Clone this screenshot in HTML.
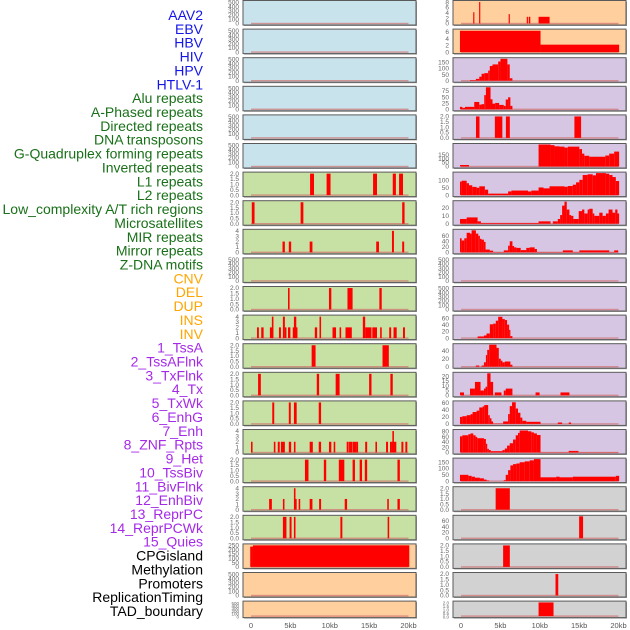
<!DOCTYPE html>
<html><head><meta charset="utf-8"><style>
html,body{margin:0;padding:0;background:#fff;}
svg{display:block;font-family:"Liberation Sans",sans-serif;}
</style></head><body>
<svg id="chart" width="630" height="630" viewBox="0 0 630 630" xmlns="http://www.w3.org/2000/svg"></svg>
<script>
const rowLabels=["AAV2","EBV","HBV","HIV","HPV","HTLV-1","Alu repeats","A-Phased repeats","Directed repeats","DNA transposons","G-Quadruplex forming repeats","Inverted repeats","L1 repeats","L2 repeats","Low_complexity A/T rich regions","Microsatellites","MIR repeats","Mirror repeats","Z-DNA motifs","CNV","DEL","DUP","INS","INV","1_TssA","2_TssAFlnk","3_TxFlnk","4_Tx","5_TxWk","6_EnhG","7_Enh","8_ZNF_Rpts","9_Het","10_TssBiv","11_BivFlnk","12_EnhBiv","13_ReprPC","14_ReprPCWk","15_Quies","CPGisland","Methylation","Promoters","ReplicationTiming","TAD_boundary"];
const labelGroups=["v","v","v","v","v","v","r","r","r","r","r","r","r","r","r","r","r","r","r","s","s","s","s","s","c","c","c","c","c","c","c","c","c","c","c","c","c","c","c","o","o","o","o","o"];
const xTickKb=[0,5,10,15,20];
const xTickLabels=["0","5kb","10kb","15kb","20kb"];
// left column: background group, y-axis kind, segments [startKb,endKb,value]
const leftBg=["b","b","b","b","b","b","g","g","g","g","g","g","g","g","g","g","g","g","g","p","p","p"];
const leftAxis=["k","k","k","k","k","k","two","two","four","k","two","four","two","two","two","four","two","four","two","cpg","k","k"];
const L6=[[7.5,8.0,2],[9.6,10.1,2],[15.5,16.0,2],[18.0,18.4,2],[18.8,19.3,2]];
const L7=[[0.1,0.45,2],[6.3,6.65,2],[19.2,19.5,2]];
const L8=[[4.0,4.3,2],[4.8,5.1,2],[7.45,7.8,2],[15.9,16.25,2],[17.9,18.15,4],[19.2,19.45,2]];
const L10=[[4.7,4.9,2],[9.9,10.2,2],[12.25,12.9,2],[16.3,16.6,2]];
const L11=[[0.76,1.0,2],[1.3,1.6,2],[2.4,2.8,2],[2.65,2.85,4],[3.55,3.8,2],[4.05,4.3,4],[4.3,4.5,2],[4.7,5.0,2],[5.3,5.9,2],[5.45,5.75,4],[8.1,8.4,2],[8.7,8.9,4],[10.35,10.8,2],[11.25,11.45,2],[12.0,12.8,2],[14.2,14.5,4],[14.5,15.3,2],[15.4,16.0,2],[16.4,16.6,2],[17.55,17.8,2],[18.1,18.5,2],[19.3,19.55,2]];
const L12=[[7.7,8.2,2],[16.7,17.5,2]];
const L13=[[0.9,1.25,2],[8.35,8.65,2],[10.75,11.25,2],[15.0,15.3,2],[17.7,18.0,2]];
const L14=[[2.7,2.95,2],[4.8,5.05,2],[5.45,5.8,2],[8.6,8.9,2]];
const L15=[[0,0.2,2],[2.9,3.1,2],[3.4,3.65,2],[3.8,4.3,2],[4.8,5.1,2],[5.45,5.65,2],[7.45,7.85,2],[8.6,8.9,2],[9.9,10.2,2],[10.5,10.7,2],[12.15,12.4,2],[12.45,12.9,2],[12.95,13.35,2],[13.35,13.6,2],[14.5,14.75,2],[15.8,16.0,2],[17.15,17.4,2],[17.65,17.9,2],[17.9,18.45,2],[17.95,18.15,4],[19.1,19.35,2],[19.6,19.85,2]];
const L16=[[6.85,7.3,2],[9.25,9.55,2],[11.15,11.85,2],[12.9,13.2,2],[13.8,14.1,2],[14.45,14.75,2],[18.6,18.9,2]];
const L17=[[2.3,2.65,2],[4.05,4.25,2],[5.45,5.65,4],[5.65,5.8,2],[6.05,6.25,2],[7.45,7.8,2],[8.65,8.9,2],[11.9,12.2,2],[17.3,17.5,2],[18.6,18.9,2]];
const L18=[[4.05,4.5,2],[4.9,5.15,2],[5.45,5.65,2],[11.35,11.6,2],[17.35,17.55,2]];
const L19=[[-0.1,0.25,235],[0.25,20.1,250]];
const leftData=[[],[],[],[],[],[],L6,L7,L8,[],L10,L11,L12,L13,L14,L15,L16,L17,L18,L19,[],[]];
// right column
const rightBg=["p","p","l","l","l","l","l","l","l","l","l","l","l","l","l","l","l","y","y","y","y","y"];
const rightYmax=[8.2,6.5,181,90,2.05,277,150,28,80,520,520,67,55,23,63,83,175,2.05,75,2.05,2.05,2.05];
const rightTicks=[[0,2,4,6,8],[0,2,4,6],[0,50,100,150],[0,25,50,75],[0,0.5,1,1.5,2],[0,50,100,150],[0,50,100],[0,10,20],[0,20,40,60],[0,100,200,300,400,500],[0,100,200,300,400,500],[0,20,40,60],[0,20,40],[0,5,10,15,20],[0,20,40,60],[0,20,40,60,80],[0,50,100,150],[0,0.5,1,1.5,2],[0,20,40,60],[0,0.5,1,1.5,2],[0,0.5,1,1.5,2],[0,0.5,1,1.5,2]];
const R0=[[1.55,1.7,4.2],[2.3,2.45,8],[6.05,6.2,3.5],[8.35,8.5,2.5],[8.6,8.8,2.5],[9.85,11.25,2.5]];
const R1=[[-0.13,10.1,6.3],[10.1,20.08,2.2]];
const R2=[[1.14,1.89,5],[1.89,2.32,15],[2.32,2.61,33],[2.61,2.95,57],[2.95,3.45,62],[3.45,3.66,83],[3.66,4.0,121],[4.0,4.72,134],[4.72,5.01,158],[5.01,5.89,180],[5.89,6.19,134],[6.19,6.53,20]];
const R3=[[-0.13,0.17,10],[0.17,0.51,6],[0.51,1.68,10],[1.68,2.32,30],[2.32,2.61,19],[2.61,2.95,21],[2.95,3.16,58],[3.16,3.75,90],[3.75,4.0,41],[4.0,4.34,23],[4.34,4.84,26],[4.84,5.43,18],[5.43,5.68,14],[5.68,5.98,40],[5.98,6.27,49],[6.27,6.53,14]];
const R4=[[1.9,2.35,2],[4.3,5.25,2],[5.7,6.2,2],[14.4,15.25,2]];
const R5=[[-0.13,1.01,19],[9.85,11.37,277],[11.37,11.87,269],[11.87,12.51,254],[12.51,13.14,250],[13.14,13.56,238],[13.56,15.03,250],[15.03,15.37,219],[15.37,15.66,162],[15.66,16.29,135],[16.29,18.32,123],[18.32,18.82,138],[18.82,19.45,162],[19.45,20.08,188]];
const R6=[[-0.13,0.08,92],[0.08,0.72,98],[0.72,1.01,81],[1.01,1.43,67],[1.43,1.98,56],[1.98,2.32,50],[2.32,3.03,60],[3.03,3.45,37],[3.45,5.98,10],[5.98,6.4,25],[6.4,8.51,31],[8.51,8.93,25],[8.93,9.85,31],[9.85,10.48,52],[10.48,11.24,46],[11.24,13.14,60],[13.14,13.56,57],[13.56,14.19,62],[14.19,14.61,71],[14.61,15.03,87],[15.03,15.45,104],[15.45,16.08,137],[16.08,16.72,142],[16.72,17.14,135],[17.14,18.4,150],[18.4,18.82,146],[18.82,19.24,137],[19.24,19.66,123],[19.66,20.08,96]];
const R7=[[-0.13,0.72,6],[0.72,2.11,8],[2.11,2.53,3],[2.53,9.85,1],[9.85,11.37,3],[11.66,12.29,3],[12.29,12.59,6],[12.59,12.84,11],[12.84,13.14,23],[13.14,13.43,28],[13.43,13.77,18],[13.77,13.98,11],[13.98,14.27,10],[14.27,14.95,6],[14.95,15.37,16],[15.37,15.66,18],[15.66,16.08,13],[16.08,16.29,18],[16.29,16.72,19],[16.72,16.93,13],[16.93,17.56,10],[17.56,17.98,14],[17.98,18.4,10],[18.4,18.74,13],[18.74,19.24,18],[19.24,19.58,14],[19.58,19.87,18],[19.87,20.08,13]];
const R8=[[-0.13,0.08,51],[0.08,0.42,43],[0.42,0.72,51],[0.72,1.14,71],[1.14,1.35,68],[1.35,1.89,80],[1.89,2.19,68],[2.19,2.4,60],[2.4,2.61,49],[2.61,2.91,46],[2.91,3.12,38],[3.12,3.66,10],[3.66,4.08,6],[4.08,5.43,1],[5.43,5.98,7],[5.98,6.19,24],[6.19,6.53,40],[6.53,6.74,23],[6.74,7.03,18],[7.03,7.58,16],[7.58,8.29,8],[8.29,8.72,16],[8.72,9.35,18],[9.35,9.64,12],[9.64,12.93,1],[12.93,14.19,7],[14.19,15.03,1],[15.03,18.82,7],[18.82,19.45,1],[19.45,19.96,7]];
const R11=[[2.11,2.91,5],[2.91,3.24,8],[3.24,3.66,14],[3.66,4.08,42],[4.08,4.42,44],[4.42,4.72,53],[4.72,5.26,65],[5.26,5.56,58],[5.56,5.85,55],[5.85,6.11,41],[6.11,6.27,25],[6.27,6.53,6]];
const R12=[[1.89,2.32,3],[2.61,2.91,3],[2.91,3.16,11],[3.16,3.33,29],[3.33,3.58,42],[3.58,4.51,55],[4.51,4.8,47],[4.8,5.05,20],[5.05,5.26,15],[5.26,5.56,11],[5.56,6.27,13],[6.27,6.53,5]];
const R13=[[-0.13,0.38,3],[1.14,1.77,7],[1.77,2.48,14],[2.48,2.91,5],[2.91,3.12,7],[3.12,3.33,9],[3.33,3.75,23],[3.75,4.08,14],[4.29,5.14,3],[5.43,5.68,5],[5.68,6.53,7],[9.47,9.98,3],[12.63,13.77,3]];
const R14=[[-0.13,0.17,20],[0.17,0.72,22],[0.72,1.22,25],[1.22,1.47,28],[1.47,1.98,34],[1.98,2.32,38],[2.32,2.74,47],[2.74,2.95,50],[2.95,3.45,54],[3.45,3.66,25],[3.66,3.87,16],[3.87,4.08,7],[4.08,5.35,1],[5.35,5.98,7],[5.98,6.19,28],[6.19,6.48,51],[6.48,6.95,62],[6.95,7.24,44],[7.24,7.54,32],[7.54,7.79,18],[7.79,8.29,9],[8.29,10.1,6],[12.29,12.84,4],[13.68,13.98,4]];
const R15=[[-0.13,0.17,61],[0.17,0.93,65],[0.93,1.22,69],[1.22,1.56,72],[1.56,1.85,65],[1.85,2.06,59],[2.06,2.91,54],[2.91,3.16,51],[3.16,3.33,33],[3.33,3.54,14],[3.54,3.79,9],[3.79,5.26,5],[5.26,5.56,9],[5.56,5.85,15],[5.85,6.19,26],[6.19,6.61,35],[6.61,6.95,49],[6.95,7.24,65],[7.24,7.45,74],[7.45,8.51,83],[8.51,8.93,80],[8.93,9.26,76],[9.26,9.64,72],[9.64,10.1,66],[10.1,13.68,1],[13.68,14.91,6],[14.91,20,1]];
const R16=[[-0.13,0.93,50],[0.93,1.35,42],[1.35,1.77,35],[1.77,2.4,27],[2.4,2.91,22],[2.91,3.24,12],[3.24,3.58,5],[5.43,5.68,7],[5.68,5.98,50],[5.98,6.27,87],[6.27,6.61,125],[6.61,7.03,135],[7.03,7.45,140],[7.45,8.08,150],[8.08,8.72,157],[8.72,9.26,165],[9.26,10.1,175],[10.1,12.08,30],[12.08,12.51,35],[12.51,14.19,30],[14.19,19.66,35],[19.66,20.08,42]];
const R17=[[4.4,6.2,2]];
const R18=[[15.0,15.5,75]];
const R19=[[5.35,6.2,2]];
const R20=[[12.0,12.35,2]];
const R21=[[9.85,11.75,2]];
const rightData=[R0,R1,R2,R3,R4,R5,R6,R7,R8,[],[],R11,R12,R13,R14,R15,R16,R17,R18,R19,R20,R21];

const NS="http://www.w3.org/2000/svg";
const svg=document.getElementById('chart');
function mk(tag,attrs,parent){const e=document.createElementNS(NS,tag);for(const k in attrs)e.setAttribute(k,attrs[k]);(parent||svg).appendChild(e);return e;}
const bgColors={b:"#c8e3ec",g:"#c7e0a3",p:"#ffd09e",l:"#d6c6e3",y:"#d2d2d2"};
const groupColors={v:"#1515e8",r:"#197019",s:"#ffa500",c:"#a52ae8",o:"#000000"};
const COLS=[{x0:243,x1:416,k0:251,k20:408.5,tx:239},{x0:453,x1:626,k0:461,k20:618.5,tx:449}];
function rowTop(i){return i*28.6+0.5;}
function rowH(i){return i===21?16.5:24.5;}
function xScale(c,kb){return COLS[c].k0+(COLS[c].k20-COLS[c].k0)*kb/20;}
function yScale(i,v,ymax){const t=rowTop(i)+1,b=rowTop(i)+rowH(i)-1.5;return b-(b-t)*v/ymax;}
function fmt(v,dec){return dec?v.toFixed(1):String(v);}

// labels
const n=rowLabels.length;
rowLabels.forEach((lab,j)=>{
  const t=mk('text',{x:203,y:15+j*(596/(n-1))+5,'text-anchor':'end','font-size':'14',fill:groupColors[labelGroups[j]]});
  t.textContent=lab;
  
  
});

function drawPanel(c,i,bg,ymax,ticks,dec,segs){
  const g=mk('g',{});
  
  
  const top=rowTop(i),h=rowH(i);
  mk('rect',{x:COLS[c].x0+1,y:top+1,width:COLS[c].x1-COLS[c].x0,height:h,fill:'#999'},g);
  mk('rect',{x:COLS[c].x0,y:top,width:COLS[c].x1-COLS[c].x0,height:h,fill:bgColors[bg],stroke:'#5a5a5a','stroke-width':1},g);
  // baseline
  mk('rect',{x:xScale(c,0),y:top+h-2.2,width:xScale(c,20)-xScale(c,0),height:1.4,fill:'#d07070',opacity:0.7},g);
  segs.forEach(s=>{
    const x1=xScale(c,s[0]),x2=xScale(c,s[1]),y=yScale(i,Math.min(s[2],ymax),ymax),yb=yScale(i,0,ymax);
    const r=mk('rect',{x:x1,y:y,width:Math.max(0.8,x2-x1),height:Math.max(0,yb-y),fill:'#ff0000'},g);
    
    
  });
  ticks.forEach(tv=>{
    const t=mk('text',{x:COLS[c].tx,y:yScale(i,tv,ymax)+2.2,'text-anchor':'end','font-size':(i===21?'4.5':'6.5'),fill:'#666'},g);
    t.textContent=fmt(tv,dec);
    
    
  });
}
const axisDefs={k:[520,[0,100,200,300,400,500],false],two:[2.05,[0,0.5,1,1.5,2],true],four:[4.1,[0,1,2,3,4],false],cpg:[255,[0,50,100,150,200,250],false]};
for(let i=0;i<22;i++){
  const a=axisDefs[leftAxis[i]];
  drawPanel(0,i,leftBg[i],a[0],a[1],a[2],leftData[i]);
  const dec=rightTicks[i].some(v=>v%1!==0);
  drawPanel(1,i,rightBg[i],rightYmax[i],rightTicks[i],dec,rightData[i]);
}
for(let c=0;c<2;c++){
  xTickKb.forEach((kb,k)=>{
    const t=mk('text',{x:xScale(c,kb),y:628,'text-anchor':'middle','font-size':'7.5',fill:'#555'});
    t.textContent=xTickLabels[k];
    
    
  });
}
</script>
</body></html>
